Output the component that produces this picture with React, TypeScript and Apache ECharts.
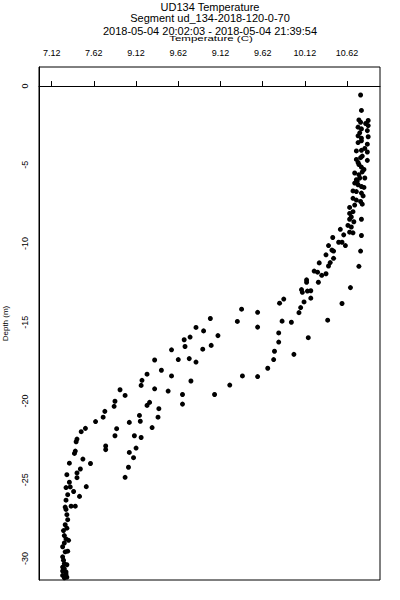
import React, { useEffect, useRef } from "react";
import * as echarts from "echarts";

const titleLines = [
  "UD134 Temperature",
  "Segment ud_134-2018-120-0-70",
  "2018-05-04 20:02:03 - 2018-05-04 21:39:54",
];
const xAxisName = "Temperature (C)";
const yAxisName = "Depth (m)";

const xTickValues = [7.12, 7.62, 8.12, 8.62, 9.12, 9.62, 10.12, 10.62];
const xTickLabels = ["7.12", "7.62", "9.12", "9.62", "9.12", "9.62", "10.12", "10.62"];
const yTickValues = [0, -5, -10, -15, -20, -25, -30];

const temperatureC = [
  10.78, 10.79, 10.87, 10.76, 10.78, 10.87, 10.75, 10.79, 10.86, 10.87,
  10.75, 10.79, 10.75, 10.79, 10.86, 10.73, 10.79, 10.86, 10.73, 10.78,
  10.80, 10.86, 10.76, 10.79, 10.82, 10.71, 10.76, 10.73, 10.77, 10.83,
  10.71, 10.75, 10.79, 10.82, 10.69, 10.73, 10.79, 10.81, 10.69, 10.73,
  10.65, 10.71, 10.80, 10.65, 10.69, 10.67, 10.65, 10.79, 10.63, 10.67,
  10.54, 10.58, 10.65, 10.69, 10.79, 10.45, 10.52, 10.56, 10.60, 10.40,
  10.44, 10.46, 10.37, 10.78, 10.46, 10.42, 10.40, 10.76, 10.29, 10.23,
  10.27, 10.37, 10.32, 10.28, 10.14, 10.14, 10.08, 10.09, 10.15, 10.19,
  10.66, 9.82, 9.87, 10.19, 10.11, 10.07, 10.05, 10.56, 9.85, 9.96,
  10.39, 9.81, 10.16, 9.81, 9.99, 9.76, 9.75, 9.68, 9.56, 9.38,
  9.23, 9.05,
  9.37, 9.56, 9.32, 9.56, 9.00, 8.83, 8.92, 8.69, 8.76, 9.09,
  8.70, 8.91, 9.01, 8.54, 8.34, 8.62, 8.75, 8.83, 8.42, 8.25,
  8.54, 8.19, 8.18, 8.77, 7.93, 7.99, 8.34, 8.50, 8.67, 7.87,
  7.86, 8.28, 8.25, 8.39, 8.67, 7.75, 7.73, 7.64, 8.16, 8.17,
  8.38, 8.04, 7.89, 7.87, 8.31, 7.52, 7.47, 7.42, 7.41, 8.10,
  8.18, 7.76, 7.76, 7.40, 7.39, 8.04, 8.12, 8.09, 7.49, 7.58,
  7.33, 7.46, 7.42, 7.42, 7.30, 8.03, 7.99, 7.53, 7.29, 7.34,
  7.38, 7.45, 7.29, 7.35, 7.40, 7.29, 7.30, 7.31, 7.28, 7.30,
  7.27, 7.29, 7.32, 7.25, 7.31, 7.28, 7.25, 7.27, 7.30, 7.25,
  7.27, 7.25, 7.29, 7.25, 7.30, 7.27,
  10.84, 10.77, 10.83, 10.75, 10.80, 10.74, 10.78, 10.70,
  7.28, 7.26, 7.27, 7.26, 7.29, 7.31, 7.33,
];

const depthM = [
  -0.57, -1.55, -2.19, -2.15, -2.30, -2.51, -2.61, -2.72, -2.83, -3.22,
  -3.16, -3.31, -3.59, -3.48, -3.69, -4.12, -4.08, -4.19, -4.66, -4.55,
  -4.45, -4.72, -4.98, -5.15, -5.30, -5.52, -5.63, -5.95, -5.84, -5.84,
  -6.16, -6.27, -6.38, -6.44, -6.66, -6.70, -6.80, -6.98, -7.13, -7.24,
  -7.71, -7.56, -7.50, -8.09, -7.98, -8.31, -8.46, -8.46, -8.85, -8.95,
  -9.10, -9.45, -9.28, -9.32, -9.49, -9.62, -9.92, -9.92, -10.13, -10.13,
  -10.42, -10.48, -10.72, -10.48, -10.94, -11.21, -11.43, -11.45, -11.23, -11.75,
  -11.82, -11.92, -12.02, -12.46, -12.31, -12.46, -12.93, -13.10, -13.02, -13.00,
  -12.80, -13.79, -13.53, -13.47, -13.71, -14.07, -14.39, -13.81, -14.93, -15.00,
  -14.87, -15.68, -15.98, -16.26, -17.04, -16.84, -17.37, -17.92, -18.45, -18.41,
  -18.99, -19.59,
  -14.17, -14.37, -14.95, -15.31, -14.76, -15.33, -15.55, -16.11, -15.94, -15.85,
  -16.54, -16.71, -16.47, -16.75, -17.40, -17.37, -17.31, -17.53, -18.05, -18.30,
  -18.41, -18.69, -19.01, -18.73, -19.29, -19.65, -19.23, -19.37, -19.59, -20.02,
  -20.34, -20.09, -20.28, -20.49, -20.20, -20.66, -21.03, -21.31, -20.92, -21.29,
  -21.03, -21.36, -21.76, -22.21, -21.69, -21.74, -21.95, -22.42, -22.59, -22.21,
  -22.32, -22.86, -23.09, -23.18, -23.33, -23.27, -22.99, -23.60, -23.69, -23.97,
  -23.95, -24.32, -24.57, -24.87, -24.68, -24.21, -24.85, -25.44, -25.50, -25.46,
  -25.75, -26.06, -26.30, -26.68, -26.68, -26.89, -27.22, -27.54, -27.86, -28.08,
  -28.55, -28.76, -28.85, -29.26, -29.54, -29.58, -29.90, -30.33, -30.40, -30.55,
  -30.66, -30.80, -30.86, -31.08, -31.19, -31.23,
  -2.38, -2.97, -3.96, -4.85, -5.45, -6.04, -7.33, -8.62,
  -26.74, -28.23, -29.02, -30.11, -31.00, -25.95, -25.16,
];

const FONT = "Liberation Sans, Arial, sans-serif";

export default function App() {
  const ref = useRef<HTMLDivElement>(null);

  useEffect(() => {
    if (!ref.current) return;
    const chart = echarts.init(ref.current, undefined, { renderer: "svg" });
    const points = temperatureC.map((t, i) => [t, depthM[i]]);

    chart.setOption({
      animation: false,
      backgroundColor: "#ffffff",
      grid: {
        left: 39,
        right: 20,
        top: 67,
        bottom: 20,
        containLabel: false,
        outerBoundsMode: "none",
        show: true,
        borderColor: "#000",
        borderWidth: 1,
        backgroundColor: "transparent",
      },
      graphic: [
        {
          type: "text",
          x: 210,
          y: 7,
          style: { text: titleLines[0], font: `11px ${FONT}`, fill: "#000", textAlign: "center", textVerticalAlign: "middle" },
        },
        {
          type: "text",
          x: 210,
          y: 17.5,
          style: { text: titleLines[1], font: `11px ${FONT}`, fill: "#000", textAlign: "center", textVerticalAlign: "middle" },
        },
        {
          type: "text",
          x: 210,
          y: 30.5,
          style: { text: titleLines[2], font: `11px ${FONT}`, fill: "#000", textAlign: "center", textVerticalAlign: "middle" },
        },
        {
          type: "text",
          x: 211,
          y: 38.5,
          scaleY: 0.6,
          style: { text: xAxisName, font: `11.5px ${FONT}`, fill: "#000", textAlign: "center", textVerticalAlign: "middle" },
        },
      ],
      xAxis: {
        type: "value",
        position: "top",
        min: 6.97,
        max: 11.01,
        splitLine: { show: false },
        axisLine: { show: true, lineStyle: { color: "#000", width: 1 } },
        axisTick: {
          show: true,
          length: 5,
          inside: false,
          customValues: xTickValues,
          lineStyle: { color: "#000", width: 1 },
        },
        axisLabel: {
          show: true,
          customValues: xTickValues,
          margin: 10,
          fontSize: 9,
          fontFamily: FONT,
          color: "#000",
          formatter: (v: number) => {
            let best = 0;
            for (let i = 1; i < xTickValues.length; i++) {
              if (Math.abs(xTickValues[i] - v) < Math.abs(xTickValues[best] - v)) best = i;
            }
            return xTickLabels[best];
          },
        },
      },
      yAxis: {
        type: "value",
        min: -31.37,
        max: 1.21,
        name: yAxisName,
        nameLocation: "middle",
        nameRotate: 90,
        nameGap: 30,
        nameTextStyle: { fontSize: 8, fontFamily: FONT, color: "#000" },
        splitLine: { show: false },
        axisLine: { show: true, lineStyle: { color: "#000", width: 1 } },
        axisTick: { show: false, customValues: yTickValues },
        axisLabel: {
          show: true,
          customValues: yTickValues,
          rotate: 90,
          margin: 10,
          fontSize: 9,
          fontFamily: FONT,
          color: "#000",
        },
      },
      series: [
        {
          type: "scatter",
          data: points,
          symbol: "circle",
          symbolSize: 5,
          itemStyle: { color: "#000", opacity: 1 },
          emphasis: { disabled: true },
        },
      ],
    });

    return () => chart.dispose();
  }, []);

  return (
    <div
      ref={ref}
      style={{ position: "absolute", left: 0, top: 0, width: 400, height: 600, background: "#fff" }}
    />
  );
}
